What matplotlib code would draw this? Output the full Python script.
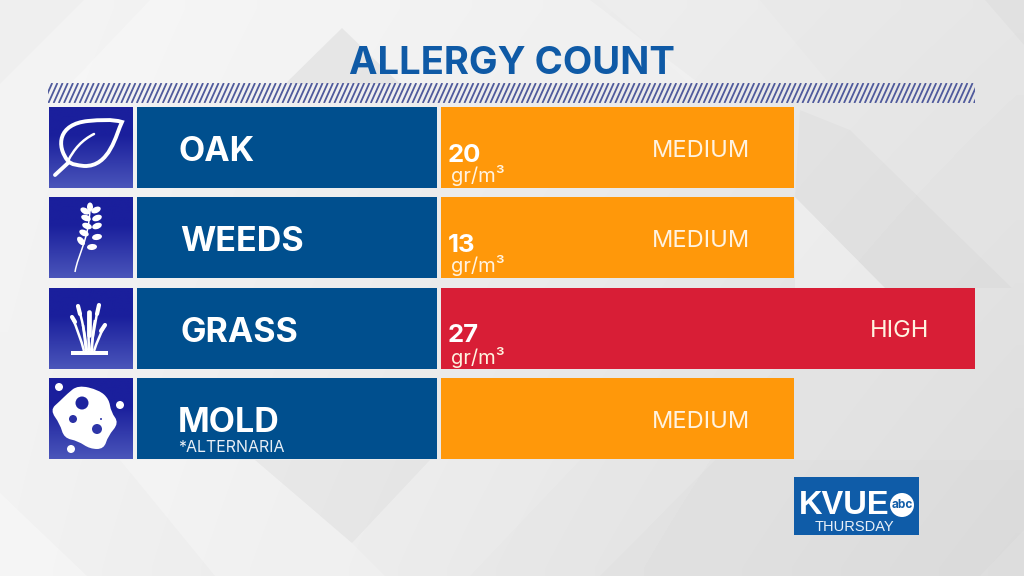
#!/usr/bin/python
import numpy as np
import matplotlib
matplotlib.use('Agg')
import matplotlib.pyplot as plt
from matplotlib.collections import LineCollection
from matplotlib.colors import to_rgb
from matplotlib.patches import Circle, Ellipse, PathPatch, Polygon, Rectangle
from matplotlib.path import Path

allergens = ['OAK', 'WEEDS', 'GRASS', 'MOLD']
counts = ['20', '13', '27', None]
levels = ['MEDIUM', 'MEDIUM', 'HIGH', 'MEDIUM']
level_scores = [2, 2, 3, 2]

ORANGE = '#ff980a'
RED = '#d81e36'
BLUE = '#004f8e'
NAVY = '#4f5a9c'
LOGO = '#0f5ca8'
FONT = 'Inter'

bar_colors = [RED if s == 3 else ORANGE for s in level_scores]


def smooth_blob(pts):
    # closed quadratic curve through the midpoints of pts
    pts = np.array(pts, dtype=float)
    mids = (pts + np.roll(pts, -1, axis=0)) / 2
    verts = [mids[-1]]
    codes = [Path.MOVETO]
    for p, m in zip(pts, mids):
        verts += [p, m]
        codes += [Path.CURVE3, Path.CURVE3]
    return Path(verts, codes)


fig = plt.figure(figsize=(10.24, 5.76), dpi=100)
bg = fig.add_axes([0, 0, 1, 1])
bg.axis('off')

# background, soft grey wash and facets
u, v = np.meshgrid(np.linspace(0, 1, 64), np.linspace(0, 1, 36))
tl, tr, bl, br = 0.955, 0.90, 0.945, 0.865
wash = tl * (1 - u) * (1 - v) + tr * u * (1 - v) + bl * (1 - u) * v + br * u * v
bg.imshow(wash, extent=(0, 1024, 576, 0), cmap='gray', vmin=0, vmax=1, aspect='auto',
          interpolation='bilinear', zorder=0)
facets = [
    ([(84, 0), (0, 84), (0, 0)], 'black', 0.015),
    ([(342, 28), (285, 84), (400, 84)], 'black', 0.035),
    ([(150, 0), (590, 0), (700, 84), (400, 84), (342, 28), (285, 84), (70, 84)], 'white', 0.25),
    ([(600, 0), (760, 0), (830, 84), (690, 84)], 'white', 0.1),
    ([(985, 0), (1024, 0), (1024, 45)], 'black', 0.02),
    ([(795, 197), (885, 288), (795, 288)], 'white', 0.3),
    ([(800, 110), (850, 130), (1012, 288), (885, 288), (795, 197)], 'black', 0.018),
    ([(0, 493), (87, 576), (0, 576)], 'white', 0.3),
    ([(120, 460), (255, 460), (352, 543), (385, 576), (215, 576)], 'white', 0.25),
    ([(255, 460), (430, 460), (352, 543)], 'black', 0.018),
    ([(430, 460), (580, 460), (470, 576), (385, 576), (352, 543)], 'white', 0.12),
    ([(600, 576), (715, 460), (1024, 460), (1024, 576)], 'black', 0.012),
    ([(980, 576), (1024, 530), (1024, 576)], 'white', 0.1),
]
for pts, col, alpha in facets:
    bg.add_patch(Polygon(pts, fc=col, ec='none', alpha=alpha, zorder=0.5))

# title and hatched strip
bg.text(512, 64, 'ALLERGY COUNT', color='#0f5aa6', fontsize=27.5, fontweight='bold',
        family=FONT, ha='center', va='center')
strip = Rectangle((48, 83), 927, 20, fc='none', ec='none')
bg.add_patch(strip)
strip_x = np.arange(38, 975, 5.2)
stripes = LineCollection([[(x, 103), (x + 9, 83)] for x in strip_x],
                         colors=NAVY, linewidths=1.3, zorder=2)
bg.add_collection(stripes)
stripes.set_clip_path(strip)

row_top = [107, 197, 288, 378]
row_h = 81

# icon tiles and label panels
c0 = np.array(to_rgb('#1a1f9c'))
c1 = np.array(to_rgb('#4a55ba'))
grad = np.clip((np.linspace(0, 1, 64).reshape(-1, 1) - 0.35) / 0.65, 0, 1)
tile = c0 + (c1 - c0) * grad[:, :, None]
for top in row_top:
    bg.imshow(tile, extent=(49, 133, top + row_h, top), aspect='auto', zorder=1)
    bg.add_patch(Rectangle((137, top), 300, row_h, fc=BLUE, ec='none', zorder=1))
bg.set_xlim(0, 1024)
bg.set_ylim(576, 0)

# leaf icon
leaf = Path([(68, 161), (56, 146), (58, 124), (88, 121), (100, 120), (112, 119), (122, 122),
             (116, 134), (110, 167), (84, 166), (77, 165), (72, 165), (68, 161)],
            [Path.MOVETO] + [Path.CURVE4] * 12)
bg.add_patch(PathPatch(leaf, fc='none', ec='white', lw=2.8, zorder=3))
bg.plot([55, 68], [175, 163], color='white', lw=2.8, solid_capstyle='round', zorder=3)
vein = Path([(68, 161), (74, 149), (82, 140), (94, 134)],
            [Path.MOVETO, Path.CURVE4, Path.CURVE4, Path.CURVE4])
bg.add_patch(PathPatch(vein, fc='none', ec='white', lw=1.8, capstyle='round', zorder=3))

# weed sprig icon
sprig = Path([(75, 272), (78, 254), (89, 240), (90, 208)],
             [Path.MOVETO, Path.CURVE4, Path.CURVE4, Path.CURVE4])
bg.add_patch(PathPatch(sprig, fc='none', ec='white', lw=1.1, zorder=3))
bg.add_patch(Ellipse((90, 207), 9, 6, angle=90, fc='white', ec='none', zorder=3))
for x, y, a in [(85, 211, 30), (96, 210, -25), (86, 218, 20), (97, 218, -20), (87, 226, 20),
                (97, 226, -20), (84, 233, 25), (97, 237, -10), (81, 241, 50), (92, 247, -5)]:
    bg.add_patch(Ellipse((x, y), 10, 6, angle=a, fc='white', ec='none', zorder=3))

# grass icon
bg.add_patch(Rectangle((71, 351), 37, 3.5, fc='white', ec='none', zorder=3))
for x0, x1, y1, xc, yc in [(84, 72, 317, 80, 335), (87, 78, 306, 84, 325), (89, 89, 311, 88, 325),
                           (91, 99, 305, 94, 325), (94, 105, 325, 98, 338), (86, 83, 325, 85, 340),
                           (92, 95, 320, 92, 335)]:
    stem = Path([(x0, 351), (xc, yc), (x1, y1)], [Path.MOVETO, Path.CURVE3, Path.CURVE3])
    bg.add_patch(PathPatch(stem, fc='none', ec='white', lw=1.8, zorder=3))
for x0, y0, x1, y1 in [(72, 317, 75, 322), (78, 306, 80, 314), (99, 305, 97, 314), (105, 325, 101, 331)]:
    bg.plot([x0, x1], [y0, y1], color='white', lw=3, solid_capstyle='round', zorder=3)
bg.plot([89, 89], [312, 335], color='white', lw=3.4, solid_capstyle='round', zorder=3)

# mold icon
blob = [(78, 385), (99, 390), (109, 399), (111, 412), (119, 423), (108, 436), (104, 449), (90, 449),
        (78, 441), (64, 438), (60, 424), (50, 410), (60, 401), (67, 394)]
bg.add_patch(PathPatch(smooth_blob(blob), fc='white', ec='none', zorder=3))
for x, y, r, col in [(82, 403, 6.5, '#1e249e'), (73, 419, 4, '#2a30a4'), (97, 429, 5, '#2e36a8'),
                     (101, 419, 1, '#2e36a8'), (59, 387, 4, 'white'), (120, 405, 4, 'white'),
                     (71, 449, 4, 'white')]:
    bg.add_patch(Circle((x, y), r, fc=col, ec='none', zorder=4))

# value bars, scale is the three step level
ax = fig.add_axes([441 / 1024, 1 - 459 / 576, 534 / 1024, 352 / 576])
ax.patch.set_alpha(0)
ax.axis('off')
y_pos = [top + row_h / 2 for top in row_top]
ax.barh(y_pos, level_scores, height=row_h, color=bar_colors, edgecolor='none')
ax.set_xlim(9 / 181, 3)
ax.set_ylim(459, 107)

name_x = [179, 180, 180, 178]
name_y = [152, 242, 333, 423]
level_x = [701, 701, 900, 701]
level_y = [151, 241, 331, 422]
num_y = [155, 245, 336]
unit_y = [176, 266, 357]

for i, name in enumerate(allergens):
    ax.text(name_x[i], name_y[i], name, transform=bg.transData, color='white',
            fontsize=24.5, fontweight='bold', family=FONT, va='center')
    ax.text(level_x[i], level_y[i], levels[i], transform=bg.transData, color='#fff3e0',
            fontsize=17, family=FONT, ha='center', va='center')
    if counts[i] is not None:
        ax.text(448, num_y[i], counts[i], transform=bg.transData, color='white',
                fontsize=18.5, fontweight='bold', family=FONT, va='center')
        ax.text(451, unit_y[i], 'gr/m\u00b3', transform=bg.transData, color='#fff3e0',
                fontsize=14.5, family=FONT, va='center')
ax.text(178, 448, '*ALTERNARIA', transform=bg.transData, color='#e8eef5', fontsize=11.5,
        family=FONT, va='center')

# station logo
bg.add_patch(Rectangle((794, 477), 125, 58, fc=LOGO, ec='none', zorder=3))
bg.text(799, 506, 'KVUE', color='white', fontsize=23.5, fontweight='bold',
        family='Liberation Sans', va='center', zorder=4)
bg.add_patch(Circle((902, 505), 12, fc='white', ec='none', zorder=4))
bg.text(902, 505, 'abc', color=LOGO, fontsize=8.5, fontweight='bold', family=FONT,
        ha='center', va='center', zorder=5)
bg.text(854, 527, 'THURSDAY', color='#e8f0f8', fontsize=10.5, family='Liberation Sans',
        ha='center', va='center', zorder=4)

plt.savefig('out.png', dpi=100)
